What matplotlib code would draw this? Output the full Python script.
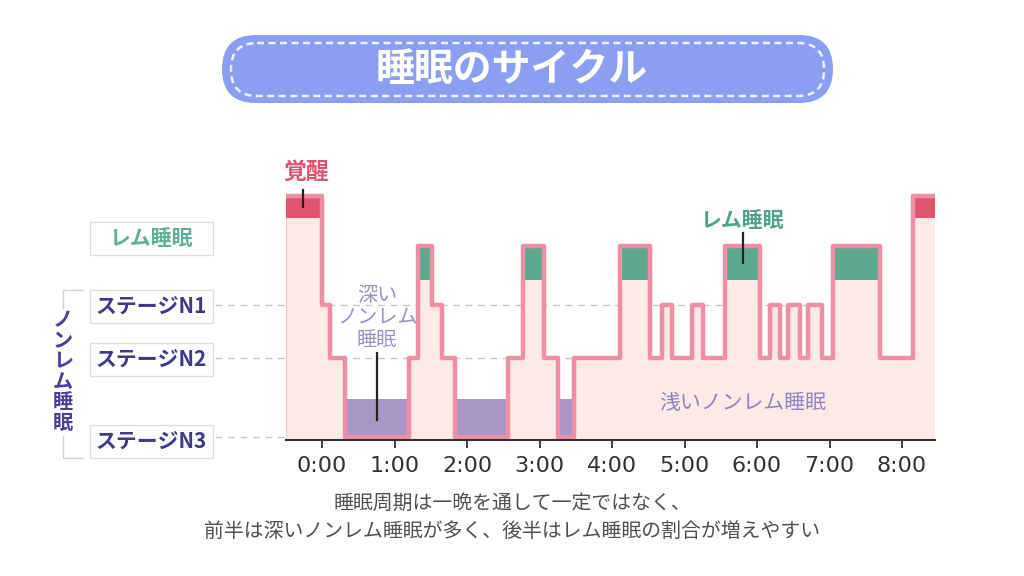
import matplotlib
matplotlib.use("Agg")
import matplotlib.pyplot as plt
from matplotlib.patches import FancyBboxPatch, Rectangle

plt.rcParams['font.family'] = ['Noto Sans CJK JP', 'DejaVu Sans']

# vertical position of each sleep stage
stage_level = {"N3": 0.0, "N2": 1.49, "N1": 2.49, "REM": 3.60, "W": 4.55}

# hypnogram: segment boundaries (hours) and the stage of each segment
change_times = [-0.5, 0.00, 0.11, 0.32, 1.20, 1.32, 1.52, 1.66, 1.83, 2.57,
                2.77, 3.06, 3.26, 3.48, 4.11, 4.52, 4.69, 4.83, 5.10, 5.26,
                5.56, 6.04, 6.18, 6.32, 6.43, 6.59, 6.70, 6.90, 7.05, 7.70,
                8.15, 8.45]
segment_stages = ["W", "N1", "N2", "N3", "N2", "REM", "N1", "N2", "N3", "N2",
                  "REM", "N2", "N3", "N2", "REM", "N2", "N1", "N2", "N1", "N2",
                  "REM", "N2", "N1", "N2", "N1", "N2", "N1", "N2", "REM", "N2",
                  "W"]

# coloured bands drawn inside wake / REM / deep segments
band_range = {"W": (4.13, 4.55), "REM": (2.96, 3.60), "N3": (0.0, 0.72)}
band_color = {"W": "#e0566f", "REM": "#5ea88f", "N3": "#a996c6"}

hour_ticks = [0, 1, 2, 3, 4, 5, 6, 7, 8]
hour_labels = ["0:00", "1:00", "2:00", "3:00", "4:00", "5:00", "6:00", "7:00", "8:00"]

left_labels = ["レム睡眠", "ステージN1", "ステージN2", "ステージN3"]

fig = plt.figure(figsize=(10.24, 5.76), dpi=100)

# overlay in pixel coordinates for title / side labels / caption
ov = fig.add_axes([0, 0, 1, 1], zorder=0)
ov.set_xlim(0, 1024)
ov.set_ylim(576, 0)
ov.axis('off')

ov.add_patch(FancyBboxPatch((222, 35), 611, 68, boxstyle="round,pad=0,rounding_size=34",
                            fc="#8c9ef2", ec="none"))
ov.add_patch(FancyBboxPatch((231, 43), 593, 53, boxstyle="round,pad=0,rounding_size=26",
                            fc="none", ec="#eef0ff", lw=1.8, ls=(0, (2.8, 1.8))))
ov.text(512, 70, "睡眠のサイクル", ha='center', va='center', fontsize=28,
        fontweight='bold', color='white')

box_y = [222, 290, 343, 425]
for i, lab in enumerate(left_labels):
    ov.add_patch(Rectangle((90, box_y[i]), 123, 33, fc='white', ec='#dcdcdc', lw=1))
    col = '#64ad98' if i == 0 else '#3d3a8c'
    ov.text(151.5, box_y[i] + 16.5, lab, ha='center', va='center', fontsize=15,
            fontweight='bold', color=col)

# bracket for ノンレム睡眠
br = '#d0d0d0'
ov.plot([83, 63, 63], [290, 290, 308], color=br, lw=1)
ov.plot([83, 63, 63], [458, 458, 436], color=br, lw=1)
for i, ch in enumerate("ノンレム睡眠"):
    ov.text(63, 320 + i * 20.5, ch, ha='center', va='center', fontsize=14.5,
            fontweight='bold', color='#4a3f9b')

ov.text(512, 503, "睡眠周期は一晩を通して一定ではなく、", ha='center', va='center',
        fontsize=14.3, color='#505050')
ov.text(512, 531, "前半は深いノンレム睡眠が多く、後半はレム睡眠の割合が増えやすい",
        ha='center', va='center', fontsize=14.3, color='#505050')

# main hypnogram axes
ax = fig.add_axes([285.75 / 1024, 136 / 576, 648.9 / 1024, 268 / 576], zorder=1)
ax.patch.set_alpha(0)
ax.set_xlim(-0.5, 8.45)
ax.set_ylim(-0.057, 5.0)

levels = [stage_level[s] for s in segment_stages]
ys = levels + [levels[-1]]

# dashed guide lines
for s, x_end in [("N1", 6.95), ("N2", 8.15), ("N3", -0.5)]:
    ax.plot([-1.48, x_end], [stage_level[s]] * 2, ls=(0, (5, 4)), color='#c8c8c8',
            lw=1, clip_on=False, zorder=0.5)

ax.fill_between(change_times, ys, -0.057, step='post', color='#fdeae6', lw=0, zorder=1)
ax.plot([change_times[0]] * 2, [0, stage_level["W"]], color='#f5bcc6', lw=1.2, zorder=1.5)

for i, s in enumerate(segment_stages):
    if s in band_range:
        lo, hi = band_range[s]
        ax.bar(change_times[i], hi - lo, width=change_times[i + 1] - change_times[i],
               bottom=lo, align='edge', color=band_color[s], lw=0, zorder=3)

ax.plot(change_times, ys, drawstyle='steps-post', color='#ef8fa5', lw=3.2,
        solid_joinstyle='round', solid_capstyle='butt', zorder=4, clip_on=False)

# annotations
ax.text(-0.22, 5.0, "覚醒", ha='center', va='center', fontsize=16.5, fontweight='bold',
        color='#e0506f', clip_on=False)
ax.plot([-0.26, -0.26], [4.66, 4.34], color='#222', lw=1.6, zorder=5, clip_on=False)

ax.text(5.80, 4.08, "レム睡眠", ha='center', va='center', fontsize=15, fontweight='bold',
        color='#4fa38b')
ax.plot([5.80, 5.80], [3.85, 3.28], color='#222', lw=1.6, zorder=5)

ax.text(0.76, 2.25, "深い\nノンレム\n睡眠", ha='center', va='center', fontsize=14.5,
        linespacing=1.1, color='#9d90c6', zorder=5)
ax.plot([0.76, 0.76], [1.58, 0.32], color='#222', lw=1.6, zorder=5)

ax.text(5.80, 0.64, "浅いノンレム睡眠", ha='center', va='center', fontsize=15,
        color='#8e84c4', zorder=5)

for side in ['top', 'right', 'left']:
    ax.spines[side].set_visible(False)
ax.spines['bottom'].set_color('#333333')
ax.spines['bottom'].set_linewidth(1.5)
ax.spines['bottom'].set_zorder(6)
ax.set_yticks([])
ax.set_xticks(hour_ticks)
ax.set_xticklabels(hour_labels, fontfamily='DejaVu Sans')
ax.tick_params(axis='x', length=5.8, width=1.3, color='#333333', pad=5.8,
               labelsize=16, labelcolor='#333333')

fig.savefig("out.png", dpi=100)
